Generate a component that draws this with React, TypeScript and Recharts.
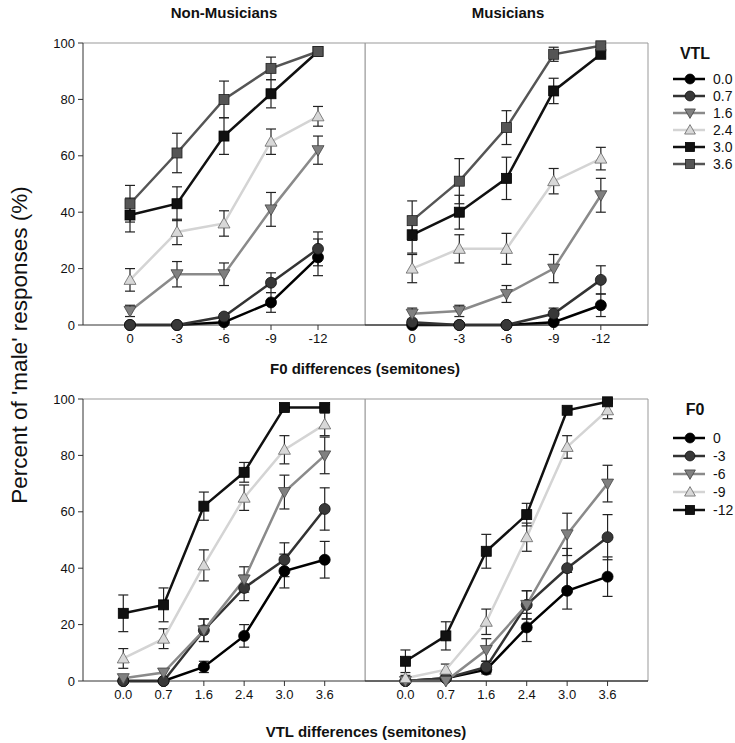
import React from 'react';
import { LineChart, Line, XAxis, YAxis, ErrorBar, ReferenceLine } from 'recharts';

const FONT = "Arial, 'Liberation Sans', sans-serif";

// x categories
const f0Labels = ['0', '-3', '-6', '-9', '-12'];
const f0Pos = [0, 3, 6, 9, 12];
const vtlLabels = ['0.0', '0.7', '1.6', '2.4', '3.0', '3.6'];
const vtlPos = [0, 1, 2, 3, 4, 5];
const yTicks = [0, 20, 40, 60, 80, 100];

// top row: one row per VTL step (0.0 .. 3.6), columns = F0 steps
const topNonMusMean = [
  [0, 0, 1, 8, 24],
  [0, 0, 3, 15, 27],
  [5, 18, 18, 41, 62],
  [16, 33, 36, 65, 74],
  [39, 43, 67, 82, 97],
  [43, 61, 80, 91, 97],
];
const topNonMusErr = [
  [0, 0, 0.5, 3.5, 6.5],
  [0, 0, 1, 3.5, 6],
  [2, 4.5, 4, 6, 5],
  [4, 4.5, 4.5, 4.5, 3.5],
  [6, 6, 6.5, 5, 1],
  [6.5, 7, 6.5, 4, 1],
];
const topMusMean = [
  [0, 0, 0, 1, 7],
  [1, 0, 0, 4, 16],
  [4, 5, 11, 20, 46],
  [20, 27, 27, 51, 59],
  [32, 40, 52, 83, 96],
  [37, 51, 70, 96, 99],
];
const topMusErr = [
  [0, 0, 0, 0.5, 4],
  [0.5, 0, 0, 2, 5],
  [2, 2, 3, 5, 6],
  [5, 5, 5.5, 4.5, 4],
  [6.5, 6, 7.5, 4.5, 1],
  [7, 8, 6, 2.5, 0.5],
];

// bottom row: one row per F0 step (0 .. -12), columns = VTL steps
const f0Series = ['0', '-3', '-6', '-9', '-12'];
const botNonMusMean = [
  [0, 0, 5, 16, 39, 43],
  [0, 0, 18, 33, 43, 61],
  [1, 3, 18, 36, 67, 80],
  [8, 15, 41, 65, 82, 91],
  [24, 27, 62, 74, 97, 97],
];
const botNonMusErr = [
  [0, 0, 2, 4, 6, 6.5],
  [0, 0, 4, 4.5, 6, 7.5],
  [0, 0, 4, 4.5, 6, 6.5],
  [3.5, 3.5, 5.5, 4.5, 5, 4],
  [6.5, 6, 5, 3.5, 1, 1],
];
const botMusMean = [
  [0, 1, 4, 19, 32, 37],
  [0, 1, 5, 27, 40, 51],
  [0, 0, 11, 27, 52, 70],
  [1, 4, 21, 51, 83, 96],
  [7, 16, 46, 59, 96, 99],
];
const botMusErr = [
  [0, 0, 1.5, 5, 6.5, 7],
  [0, 0, 2, 5, 7, 8],
  [0, 0, 4, 5, 7.5, 6.5],
  [1, 2, 4.5, 5, 4, 3],
  [4, 5, 6, 4, 1, 0.5],
];

type Style = { line: string; fill: string; edge: string; shape: 'circle' | 'square' | 'down' | 'up' };

const vtlStyles: Style[] = [
  { line: '#000', fill: '#000', edge: '#000', shape: 'circle' },
  { line: '#333', fill: '#383838', edge: '#111', shape: 'circle' },
  { line: '#8a8a8a', fill: '#808080', edge: '#444', shape: 'down' },
  { line: '#d4d4d4', fill: '#d8d8d8', edge: '#666', shape: 'up' },
  { line: '#111', fill: '#111', edge: '#000', shape: 'square' },
  { line: '#555', fill: '#555', edge: '#222', shape: 'square' },
];
const f0Styles: Style[] = [vtlStyles[0], vtlStyles[1], vtlStyles[2], vtlStyles[3], vtlStyles[4]];

function Marker({ cx, cy, s, k = 1 }: { cx: number; cy: number; s: Style; k?: number }) {
  if (cx == null || cy == null) return null;
  if (s.shape === 'circle')
    return <circle cx={cx} cy={cy} r={5.5 * k} fill={s.fill} stroke={s.edge} strokeWidth={0.8} />;
  if (s.shape === 'square')
    return <rect x={cx - 5 * k} y={cy - 5 * k} width={10 * k} height={10 * k} fill={s.fill} stroke={s.edge} strokeWidth={0.8} />;
  const a = 6 * k, b = 4.5 * k;
  const pts = s.shape === 'down'
    ? `${cx - a},${cy - b} ${cx + a},${cy - b} ${cx},${cy + a}`
    : `${cx - a},${cy + b} ${cx + a},${cy + b} ${cx},${cy - a}`;
  return <polygon points={pts} fill={s.fill} stroke={s.edge} strokeWidth={0.8} />;
}

const makeDot = (s: Style) => (p: any) =>
  <Marker key={`d-${p.index}`} cx={p.cx} cy={p.cy} s={s} />;

function buildRows(xs: number[], means: number[][], errs: number[][]) {
  return xs.map((x, i) => {
    const row: any = { x };
    means.forEach((m, k) => { row[`s${k}`] = m[i]; row[`e${k}`] = errs[k][i]; });
    return row;
  });
}

interface PanelProps {
  left: number; top: number; showY: boolean;
  xs: number[]; xLabels: string[]; domain: [number, number];
  means: number[][]; errs: number[][]; styles: Style[];
}

function Panel({ left, top, showY, xs, xLabels, domain, means, errs, styles }: PanelProps) {
  const data = buildRows(xs, means, errs);
  const w = showY ? 370 : 290;
  return (
    <div style={{ position: 'absolute', left, top }}>
      <LineChart width={w} height={360} data={data}
        margin={{ top: 43, right: showY ? 5 : 7, left: 0, bottom: 5 }}>
        <XAxis dataKey="x" type="number" domain={domain} ticks={xs} allowDataOverflow
          tickFormatter={(v: number) => xLabels[xs.indexOf(v)] ?? ''}
          height={30} tickSize={5} tickMargin={4}
          axisLine={{ stroke: '#333' }} tickLine={{ stroke: '#333' }}
          tick={{ fontFamily: FONT, fontSize: 13, fill: '#111' }} />
        <YAxis type="number" domain={[0, 100]} ticks={yTicks} hide={!showY} width={83}
          tickSize={5} tickMargin={3} axisLine={{ stroke: '#333' }} tickLine={{ stroke: '#333' }}
          tick={{ fontFamily: FONT, fontSize: 13, fill: '#111' }} />
        <ReferenceLine y={100} stroke="#999" strokeWidth={1} />
        <ReferenceLine x={domain[1]} stroke="#999" strokeWidth={1} />
        {!showY && <ReferenceLine x={domain[0]} stroke="#999" strokeWidth={1} />}
        {!showY && <ReferenceLine y={0} stroke="#333" strokeWidth={1} />}
        {means.map((_, k) => (
          <Line key={k} dataKey={`s${k}`} type="linear" stroke={styles[k].line} strokeWidth={2.5}
            dot={makeDot(styles[k])} activeDot={false} isAnimationActive={false}>
            <ErrorBar dataKey={`e${k}`} direction="y" width={5} stroke="#222" strokeWidth={1.2} />
          </Line>
        ))}
      </LineChart>
    </div>
  );
}

function LegendBox({ x, y, title, labels, styles, first, step }: {
  x: number; y: number; title: string; labels: string[]; styles: Style[]; first: number; step: number;
}) {
  return (
    <g>
      <text x={x + 22} y={y} textAnchor="middle" dominantBaseline="central"
        fontFamily={FONT} fontSize={16} fontWeight="bold" fill="#111">{title}</text>
      {labels.map((l, i) => {
        const yy = y + first + i * step;
        return (
          <g key={l}>
            <line x1={x} x2={x + 32} y1={yy} y2={yy} stroke={styles[i].line} strokeWidth={2.5} />
            <Marker cx={x + 17} cy={yy} s={styles[i]} k={0.9} />
            <text x={x + 40} y={yy} dominantBaseline="central" fontFamily={FONT}
              fontSize={14} fill="#111">{l}</text>
          </g>
        );
      })}
    </g>
  );
}

export default function App() {
  return (
    <div style={{ position: 'absolute', left: 0, top: 0, width: 735, height: 743, background: '#fff' }}>
      <Panel left={0} top={0} showY xs={f0Pos} xLabels={f0Labels} domain={[-3, 15]}
        means={topNonMusMean} errs={topNonMusErr} styles={vtlStyles} />
      <Panel left={365} top={0} showY={false} xs={f0Pos} xLabels={f0Labels} domain={[-3, 15]}
        means={topMusMean} errs={topMusErr} styles={vtlStyles} />
      <Panel left={0} top={356} showY xs={vtlPos} xLabels={vtlLabels} domain={[-1, 6]}
        means={botNonMusMean} errs={botNonMusErr} styles={f0Styles} />
      <Panel left={365} top={356} showY={false} xs={vtlPos} xLabels={vtlLabels} domain={[-1, 6]}
        means={botMusMean} errs={botMusErr} styles={f0Styles} />
      <svg width={735} height={743} style={{ position: 'absolute', left: 0, top: 0, pointerEvents: 'none' }}>
        <text x={224} y={12} textAnchor="middle" dominantBaseline="central" fontFamily={FONT}
          fontSize={15} fontWeight="bold" fill="#111">Non-Musicians</text>
        <text x={508} y={12} textAnchor="middle" dominantBaseline="central" fontFamily={FONT}
          fontSize={15} fontWeight="bold" fill="#111">Musicians</text>
        <text x={365} y={368} textAnchor="middle" dominantBaseline="central" fontFamily={FONT}
          fontSize={15} fontWeight="bold" fill="#111">F0 differences (semitones)</text>
        <text x={366} y={731} textAnchor="middle" dominantBaseline="central" fontFamily={FONT}
          fontSize={15} fontWeight="bold" fill="#111">VTL differences (semitones)</text>
        <text x={19} y={345} textAnchor="middle" dominantBaseline="central" fontFamily={FONT}
          fontSize={22.5} fill="#111" transform="rotate(-90 19 345)">Percent of 'male' responses (%)</text>
        <LegendBox x={673} y={53} title="VTL" labels={vtlLabels} styles={vtlStyles} first={26} step={17} />
        <LegendBox x={673} y={409} title="F0" labels={f0Series} styles={f0Styles} first={29} step={18} />
      </svg>
    </div>
  );
}
